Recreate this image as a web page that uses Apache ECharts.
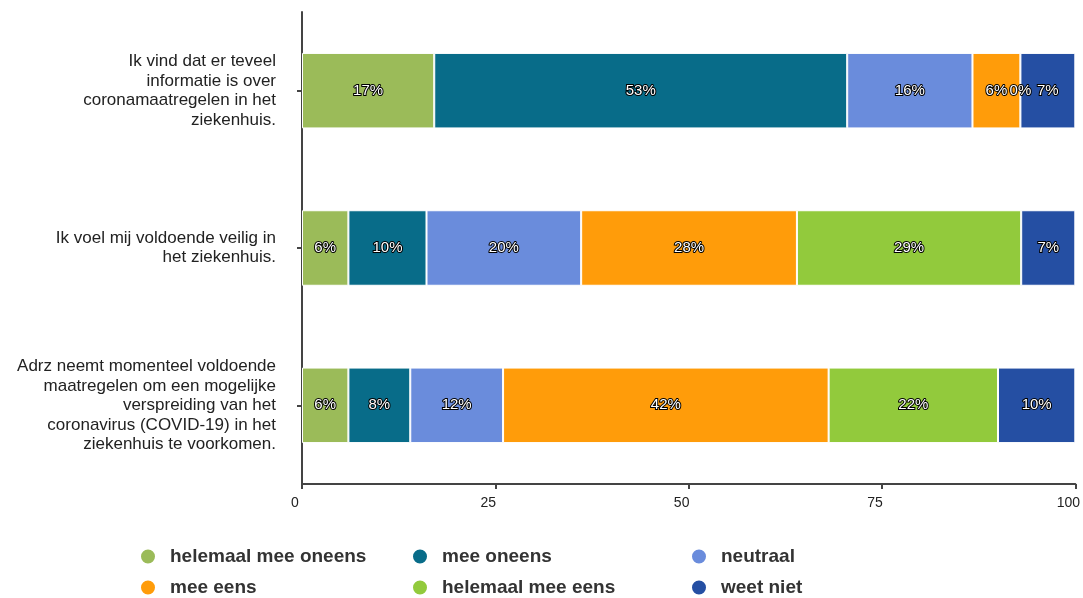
<!DOCTYPE html>
<html>
<head>
<meta charset="utf-8">
<script src="https://cdn.jsdelivr.net/npm/echarts@6/dist/echarts.min.js"></script>
<style>
html,body{margin:0;padding:0;background:#fff;overflow:hidden;}
#chart{width:1083px;height:598px;}
</style>
</head>
<body>
<div id="chart"></div>
<script>
const categories = [
  "Ik vind dat er teveel\ninformatie is over\ncoronamaatregelen in het\nziekenhuis.",
  "Ik voel mij voldoende veilig in\nhet ziekenhuis.",
  "Adrz neemt momenteel voldoende\nmaatregelen om een mogelijke\nverspreiding van het\ncoronavirus (COVID-19) in het\nziekenhuis te voorkomen."
];
const seriesNames = ["helemaal mee oneens", "mee oneens", "neutraal", "mee eens", "helemaal mee eens", "weet niet"];
const helemaalMeeOneens = [17.1, 6.0, 6.0];
const meeOneens = [53.4, 10.1, 8.0];
const neutraal = [16.2, 20.0, 12.0];
const meeEens = [6.2, 27.9, 42.1];
const helemaalMeeEens = [0, 29.0, 21.9];
const weetNiet = [7.1, 7.0, 10.0];
const xTicks = [0, 25, 50, 75, 100];

const colors = ["#9BBB59", "#086C89", "#6A8CDC", "#FF9C0A", "#92CA3C", "#254FA3"];
const values = [helemaalMeeOneens, meeOneens, neutraal, meeEens, helemaalMeeEens, weetNiet];
const FONT = "'Liberation Sans', Arial, Helvetica, sans-serif";

const chart = echarts.init(document.getElementById('chart'), null, {renderer: 'canvas'});

const series = seriesNames.map((name, i) => ({
  name: name,
  type: 'bar',
  stack: 'total',
  barWidth: '48%',
  data: values[i],
  itemStyle: { color: colors[i], borderColor: '#ffffff', borderWidth: 1 },
  label: {
    show: true,
    position: 'inside',
    formatter: p => Math.round(p.value) + '%',
    color: '#ffffff',
    fontFamily: FONT,
    fontSize: 15,
    textBorderColor: '#000000',
    textBorderWidth: 2
  },
  emphasis: { disabled: true },
  animation: false
}));

const legendLefts = [139, 411, 690];
const legendTops = [547, 578];
const legends = seriesNames.map((name, i) => ({
  orient: 'horizontal',
  left: legendLefts[i % 3],
  top: legendTops[Math.floor(i / 3)],
  padding: 0,
  icon: 'circle',
  itemWidth: 34,
  itemHeight: 16,
  selectedMode: false,
  data: [name],
  textStyle: { fontFamily: FONT, fontSize: 19, fontWeight: 'bold', color: '#333333' }
}));

chart.setOption({
  animation: false,
  backgroundColor: '#ffffff',
  grid: { left: 302, right: 1, top: 12, bottom: 114, containLabel: false },
  xAxis: {
    type: 'value',
    min: xTicks[0],
    max: xTicks[xTicks.length - 1],
    interval: xTicks[1] - xTicks[0],
    axisLine: { show: true, lineStyle: { color: '#444444', width: 2 } },
    axisTick: { show: true, length: 5, lineStyle: { color: '#444444', width: 2 } },
    splitLine: { show: false },
    axisLabel: { color: '#222222', fontFamily: FONT, fontSize: 14, margin: 12, padding: [0, 14, 0, 0] }
  },
  yAxis: {
    type: 'category',
    inverse: true,
    data: categories,
    axisLine: { show: true, lineStyle: { color: '#444444', width: 2 } },
    axisTick: { show: true, length: 5, alignWithLabel: true, lineStyle: { color: '#444444', width: 2 } },
    axisLabel: { color: '#222222', fontFamily: FONT, fontSize: 17, lineHeight: 19.5, margin: 26, align: 'right' }
  },
  legend: legends,
  series: series
});
</script>
</body>
</html>
